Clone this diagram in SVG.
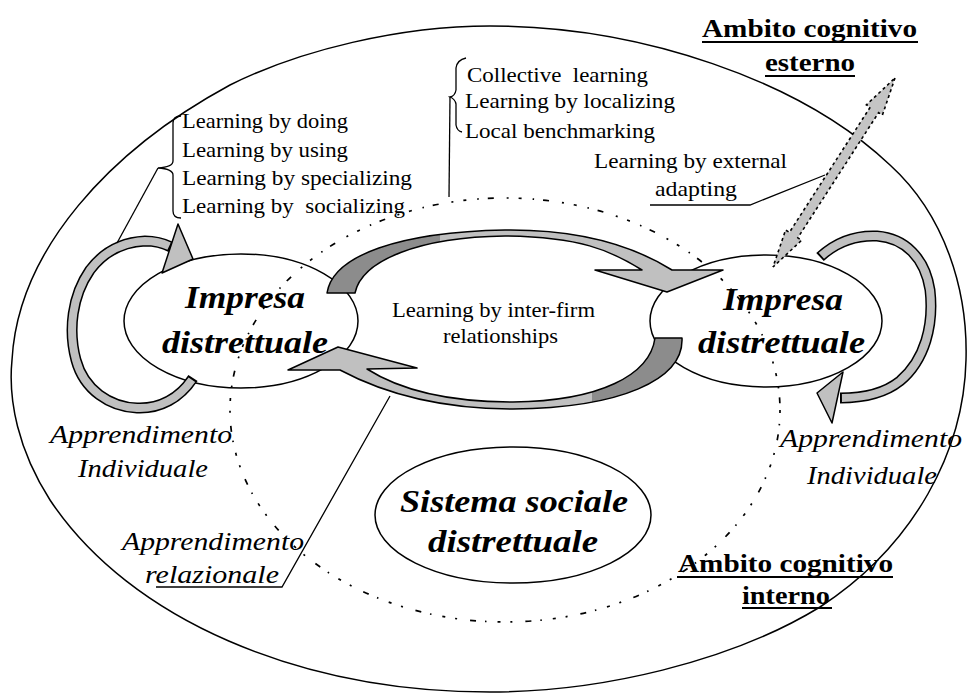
<svg xmlns="http://www.w3.org/2000/svg" width="970" height="693" viewBox="0 0 970 693">
<style>
.t{font-family:"Liberation Serif","Times New Roman",serif;fill:#000}
.list{font-size:21px}
.big{font-size:32px;font-weight:bold;font-style:italic}
.it{font-size:25px;font-style:italic}
.amb{font-size:26px;font-weight:bold}
.ell{fill:none;stroke:#000;stroke-width:1.5}
.dot{fill:none;stroke:#000;stroke-width:1.7;stroke-dasharray:3 11 1.5 9 6 13 2 10}
.thin{fill:none;stroke:#000;stroke-width:1.3}
.ul{stroke:#000;stroke-width:2}
.edge{fill:none;stroke:#000;stroke-width:1.5;stroke-linejoin:round}
.light{fill:#c0c0c0}
.dark{fill:#8c8c8c}
.head{fill:#c0c0c0;stroke:#000;stroke-width:1.5;stroke-linejoin:round}
.bandO{fill:none;stroke:#000;stroke-width:11}
.bandI{fill:none;stroke:#c0c0c0;stroke-width:8}
</style>
<defs>
<clipPath id="clTop"><rect x="0" y="0" width="440" height="693"/></clipPath>
<clipPath id="clBot"><rect x="592" y="0" width="378" height="693"/></clipPath>
<path id="ribTop" d="M327,293 C333,255 400,232 505,230 C590,229 640,250 672,270 L723,270 L667,292 L595,270 L642,270 C610,250 580,237 505,236 C420,237 362,260 355,293 Z"/>
<path id="ribBot" d="M682,338 C684,380 620,408 513,409 C440,409 385,394 340,370 L288,370 L338,347 L417,368 L367,369 C400,390 450,402 513,402 C600,401 650,375 655,338 Z"/>
</defs>

<g id="outer-boundary">
<path class="ell" d="M490,26 C640,26 800,80 890,165 C945,215 968,290 966,360 C964,450 915,545 820,607 C730,662 600,692 490,692 C300,692 130,620 50,500 C18,450 8,400 12,360 C18,250 110,150 230,85 C300,50 400,26 490,26 Z"/>
</g>

<g id="dotted-boundary">
<ellipse class="dot" cx="505" cy="410" rx="275" ry="212"/>
</g>

<g id="node-impresa-left">
<ellipse class="ell" cx="241" cy="321" rx="117" ry="67"/>
<text class="t big" x="185" y="308" textLength="120" lengthAdjust="spacingAndGlyphs">Impresa</text>
<text class="t big" x="162" y="353" textLength="166" lengthAdjust="spacingAndGlyphs">distrettuale</text>
</g>

<g id="node-impresa-right">
<ellipse class="ell" cx="766" cy="321" rx="116" ry="66"/>
<text class="t big" x="723" y="310" textLength="120" lengthAdjust="spacingAndGlyphs">Impresa</text>
<text class="t big" x="698" y="353" textLength="167" lengthAdjust="spacingAndGlyphs">distrettuale</text>
</g>

<g id="node-sistema-sociale">
<ellipse class="ell" cx="513" cy="515" rx="138" ry="68"/>
<text class="t big" x="400" y="512" textLength="228" lengthAdjust="spacingAndGlyphs">Sistema sociale</text>
<text class="t big" x="428" y="552" textLength="170" lengthAdjust="spacingAndGlyphs">distrettuale</text>
</g>

<g id="connectors">
<use href="#ribTop" class="light"/>
<use href="#ribTop" class="dark" clip-path="url(#clTop)"/>
<use href="#ribTop" class="edge"/>
<use href="#ribBot" class="light"/>
<use href="#ribBot" class="dark" clip-path="url(#clBot)"/>
<use href="#ribBot" class="edge"/>
<path class="bandO" d="M193,378 C180,398 160,409 137,408 C110,407 84,390 76,360 C68,330 72,296 90,270 C105,250 125,242 145,241 C155,241 163,243 171,247"/>
<path class="bandI" pathLength="100" stroke-dasharray="0 0.6 98.8 0.6" d="M193,378 C180,398 160,409 137,408 C110,407 84,390 76,360 C68,330 72,296 90,270 C105,250 125,242 145,241 C155,241 163,243 171,247"/>
<polygon class="head" points="178,224 193,259 162,273"/>
<path class="bandO" stroke-width="12" d="M820,257 C835,243 855,235 877,236 C905,238 925,258 930,290 C934,325 925,360 900,381 C885,393 865,398 840,398"/>
<path class="bandI" stroke-width="9" pathLength="100" stroke-dasharray="0 0.6 98.8 0.6" d="M820,257 C835,243 855,235 877,236 C905,238 925,258 930,290 C934,325 925,360 900,381 C885,393 865,398 840,398"/>
<polygon class="head" points="843,372 817,393 832,423"/>
<polygon points="895,78 882.4,115.1 878.6,112.6 797.8,237.8 801.6,240.3 773,267 785.6,230 789.4,232.4 870.2,107.2 866.4,104.8" fill="#c4c4c4" stroke="#000" stroke-width="1.6" stroke-dasharray="3 3"/>
<path class="thin" d="M181,116 Q173,116 173,123 L173,161 Q173,167 158,168 Q173,169 173,175 L173,211 Q173,218 181,218"/>
<path class="thin" d="M158,168 L117,243"/>
<path class="thin" d="M466,58 Q457,60 456,68 L456,90 Q455,96 450,97 Q455,99 456,104 L456,125 Q457,131 462,132"/>
<path class="thin" d="M450,97 L449,197"/>
<path class="thin" d="M650,205 L750,205 L825,175"/>
<path class="thin" d="M156,587 L282,587 L390,396"/>
</g>

<g id="labels">
<text class="t list" x="182" y="128" textLength="166" lengthAdjust="spacingAndGlyphs">Learning by doing</text>
<text class="t list" x="182" y="157" textLength="166" lengthAdjust="spacingAndGlyphs">Learning by using</text>
<text class="t list" x="182" y="185" textLength="230" lengthAdjust="spacingAndGlyphs">Learning by specializing</text>
<text class="t list" x="182" y="213" textLength="223" lengthAdjust="spacingAndGlyphs" xml:space="preserve">Learning by  socializing</text>
<text class="t list" x="467" y="82" textLength="181" lengthAdjust="spacingAndGlyphs" xml:space="preserve">Collective  learning</text>
<text class="t list" x="465" y="108" textLength="210" lengthAdjust="spacingAndGlyphs">Learning by localizing</text>
<text class="t list" x="465" y="138" textLength="190" lengthAdjust="spacingAndGlyphs">Local benchmarking</text>
<text class="t list" x="594" y="168" textLength="193" lengthAdjust="spacingAndGlyphs">Learning by external</text>
<text class="t list" x="655" y="196" textLength="82" lengthAdjust="spacingAndGlyphs">adapting</text>
<text class="t list" x="392" y="317" textLength="203" lengthAdjust="spacingAndGlyphs">Learning by inter-firm</text>
<text class="t list" x="443" y="343" textLength="115" lengthAdjust="spacingAndGlyphs">relationships</text>

<text class="t it" x="50" y="443" textLength="182" lengthAdjust="spacingAndGlyphs">Apprendimento</text>
<text class="t it" x="78" y="477" textLength="130" lengthAdjust="spacingAndGlyphs">Individuale</text>
<text class="t it" x="780" y="447" textLength="182" lengthAdjust="spacingAndGlyphs">Apprendimento</text>
<text class="t it" x="807" y="484" textLength="130" lengthAdjust="spacingAndGlyphs">Individuale</text>
<text class="t it" x="122" y="550" textLength="182" lengthAdjust="spacingAndGlyphs">Apprendimento</text>
<text class="t it" x="145" y="583" textLength="134" lengthAdjust="spacingAndGlyphs">relazionale</text>

<text class="t amb" x="702" y="37" textLength="215" lengthAdjust="spacingAndGlyphs">Ambito cognitivo</text>
<line class="ul" x1="702" y1="42" x2="918" y2="42"/>
<text class="t amb" x="765" y="71" textLength="90" lengthAdjust="spacingAndGlyphs">esterno</text>
<line class="ul" x1="765" y1="76" x2="855" y2="76"/>
<text class="t amb" x="678" y="572" textLength="215" lengthAdjust="spacingAndGlyphs">Ambito cognitivo</text>
<line class="ul" x1="677" y1="577" x2="893" y2="577"/>
<text class="t amb" x="742" y="604" textLength="88" lengthAdjust="spacingAndGlyphs">interno</text>
<line class="ul" x1="742" y1="608" x2="832" y2="608"/>
</g>
</svg>
